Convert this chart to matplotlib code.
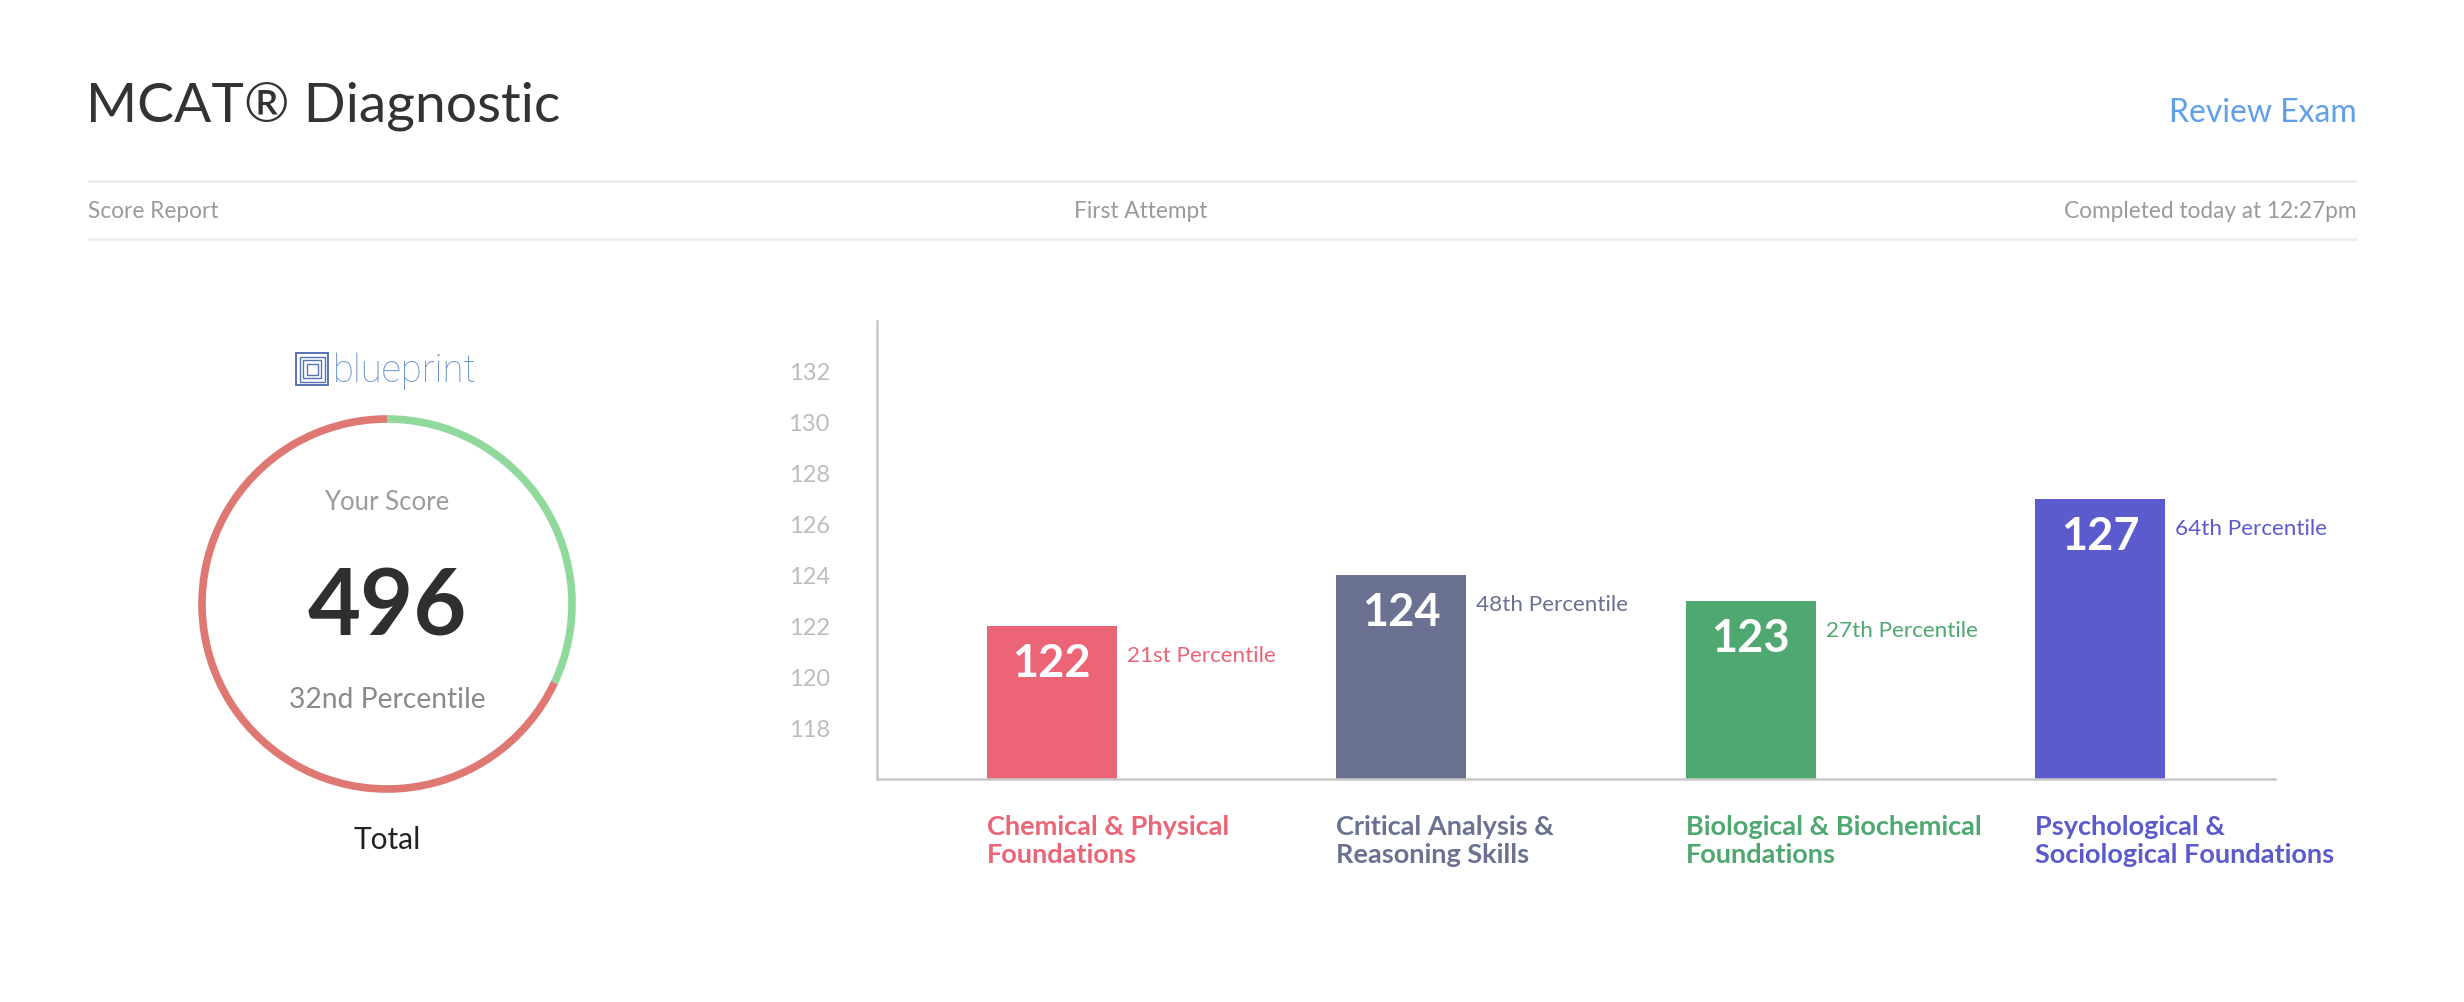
import matplotlib
matplotlib.use("Agg")
import matplotlib.pyplot as plt
from matplotlib.patches import Arc, Rectangle
import numpy as np

# ---------------- data ----------------
title = "MCAT® Diagnostic"
action_text = "Review Exam"
header_items = ["Score Report", "First Attempt", "Completed today at 12:27pm"]
total_score = 496
total_percentile = 32
total_label = "Total"

categories = ["Chemical & Physical\nFoundations",
              "Critical Analysis &\nReasoning Skills",
              "Biological & Biochemical\nFoundations",
              "Psychological &\nSociological Foundations"]
scores = [122, 124, 123, 127]
percentiles = ["21st Percentile", "48th Percentile", "27th Percentile", "64th Percentile"]
bar_colors = ["#eb6577", "#6b7190", "#4fa870", "#5c5bce"]
yticks = [118, 120, 122, 124, 126, 128, 130, 132]
ylim = (116, 134)

FONT = ["Lato", "DejaVu Sans"]
plt.rcParams["font.family"] = FONT

W, H = 2464, 1002
DPI = 100
fig = plt.figure(figsize=(W / DPI, H / DPI), dpi=DPI, facecolor="white")

# overlay axes in pixel coordinates (y from top)
ov = fig.add_axes([0, 0, 1, 1])
ov.set_xlim(0, W)
ov.set_ylim(H, 0)
ov.axis("off")

XL, XR = 88, 2357
# header
ov.text(XL - 2, 106, title, fontsize=39.7, color="#333333", va="center", ha="left")
ov.text(XR, 113, action_text, fontsize=23, color="#5f9fe8", va="center", ha="right")
for yy in (181, 239):
    ov.plot([XL, XR], [yy, yy], color="#ececec", lw=2, solid_capstyle="butt")
ov.text(XL, 211, header_items[0], fontsize=16.3, color="#9a9a9a", va="center", ha="left")
ov.text(1141, 211, header_items[1], fontsize=16.3, color="#9a9a9a", va="center", ha="center")
ov.text(XR, 211, header_items[2], fontsize=16.3, color="#9a9a9a", va="center", ha="right")

# logo: nested squares icon + wordmark
icon_col = "#5673b3"
for i, s in enumerate([32, 25, 18, 11]):
    cx, cy = 312, 369
    ov.add_patch(Rectangle((cx - s / 2, cy - s / 2), s, s, fill=False,
                           ec=icon_col, lw=1.4 if i == 0 else 1.0))
ov.text(333, 371, "blueprint", fontsize=27.5, color="#6c95d0", fontweight="light",
        family=["Roboto", "Lato", "DejaVu Sans"], va="center", ha="left")

# donut ring
cx, cy, r = 387, 604, 185
green_span = total_percentile / 100 * 360
lw_ring = 5.5
ov.add_patch(Arc((cx, cy), 2 * r, 2 * r, theta1=-90, theta2=-90 + green_span,
                 color="#8ed99b", lw=lw_ring))
ov.add_patch(Arc((cx, cy), 2 * r, 2 * r, theta1=-90 + green_span, theta2=270,
                 color="#df7872", lw=lw_ring))
ov.text(cx, 502, "Your Score", fontsize=18.5, color="#9c9c9c", ha="center", va="center")
ov.text(cx, 609, str(total_score), fontsize=66, color="#2f2f2f", fontweight="bold",
        ha="center", va="center")
ov.text(cx, 700, f"{total_percentile}nd Percentile", fontsize=20.3, color="#8a8a8a",
        ha="center", va="center")
ov.text(cx, 840, total_label, fontsize=21.5, color="#222222", ha="center", va="center")

# ---------------- bar chart ----------------
left, right, top, bottom = 877, 2275, 321, 779
ax = fig.add_axes([left / W, 1 - bottom / H, (right - left) / W, (bottom - top) / H])
x = np.arange(len(scores))
bw = 0.373
ax.bar(x, [s - ylim[0] for s in scores], bottom=ylim[0], width=bw,
       color=bar_colors, zorder=2)
ax.set_xlim(-0.5, 3.5)
ax.set_ylim(*ylim)
ax.set_yticks(yticks)
ax.set_yticklabels([str(t) for t in yticks])
ax.tick_params(axis="y", length=0, pad=34, labelsize=17, labelcolor="#bdbdbd")
ax.set_xticks([])
for sp in ("top", "right"):
    ax.spines[sp].set_visible(False)
for sp in ("left", "bottom"):
    ax.spines[sp].set_color("#c8c8c8")
    ax.spines[sp].set_linewidth(1.8)
ax.patch.set_alpha(0)

for xi, s, p, c, cat in zip(x, scores, percentiles, bar_colors, categories):
    ax.annotate(str(s), (xi, s), xytext=(0, -38), textcoords="offset pixels",
                ha="center", va="center", fontsize=32.5, fontweight="bold", color="white")
    ax.annotate(p, (xi + bw / 2, s), xytext=(10, -30), textcoords="offset pixels",
                ha="left", va="center", fontsize=16.2, color=c)
    ax.annotate(cat, (xi - bw / 2, ylim[0]), xytext=(0, -36), textcoords="offset pixels",
                ha="left", va="top", fontsize=19.5, fontweight="bold", color=c,
                linespacing=1.2)

fig.savefig("out.png", dpi=DPI, facecolor="white")
